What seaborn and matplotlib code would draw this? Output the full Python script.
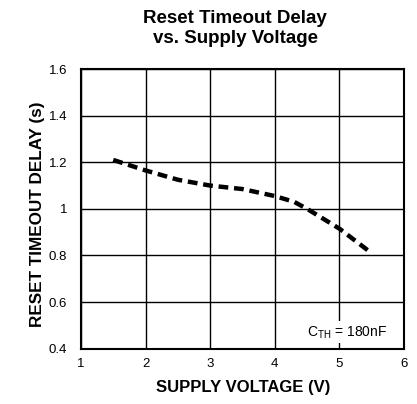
import pandas as pd
import seaborn as sns
import matplotlib.pyplot as plt

voltage = [1.5, 2.0, 2.5, 3.0, 3.5, 4.0, 4.3, 4.5, 5.0, 5.45]
delay = [1.21, 1.165, 1.125, 1.10, 1.085, 1.055, 1.03, 1.0, 0.915, 0.82]
x_ticks = [1, 2, 3, 4, 5, 6]
y_ticks = [0.4, 0.6, 0.8, 1.0, 1.2, 1.4, 1.6]
y_labels = ['0.4', '0.6', '0.8', '1', '1.2', '1.4', '1.6']

sns.set_style('white')
plt.rcParams['font.family'] = ['Liberation Sans', 'DejaVu Sans']
plt.rcParams['text.color'] = 'black'
plt.rcParams['axes.labelcolor'] = 'black'
plt.rcParams['xtick.color'] = 'black'
plt.rcParams['ytick.color'] = 'black'

df = pd.DataFrame({'v': voltage, 'd': delay})

fig = plt.figure(figsize=(4.17, 4.04), dpi=100)
ax = fig.add_axes([0.194, 0.137, 0.775, 0.692])
sns.lineplot(data=df, x='v', y='d', ax=ax, color='black', linewidth=3.2,
             linestyle=(0, (2.2, 1.3)))

ax.set_xlim(1, 6)
ax.set_ylim(0.4, 1.6)
ax.set_xticks(x_ticks)
ax.set_yticks(y_ticks)
ax.set_yticklabels(y_labels)
ax.grid(True, color='black', linewidth=1.0)
for s in ax.spines.values():
    s.set_color('black')
    s.set_linewidth(1.5)
ax.tick_params(labelsize=9.5, length=0)
ax.tick_params(axis='x', pad=7)
ax.tick_params(axis='y', pad=10)

ax.set_xlabel('SUPPLY VOLTAGE (V)', fontsize=12, fontweight='bold')
ax.set_ylabel('RESET TIMEOUT DELAY (s)', fontsize=12.3, fontweight='bold')
ax.xaxis.set_label_coords(0.503, -0.112)
ax.yaxis.set_label_coords(-0.111, 0.48)

ax.text(0.477, 1.145, 'Reset Timeout Delay\nvs. Supply Voltage', transform=ax.transAxes,
        ha='center', va='center', multialignment='center', fontsize=13.5,
        fontweight='bold')

ax.text(0.947, 0.058, r'C$_{\mathregular{TH}}$ = 180nF', transform=ax.transAxes,
        ha='right', va='center', fontsize=10,
        bbox=dict(facecolor='white', edgecolor='none', pad=2))

fig.savefig('out.png', dpi=100)
